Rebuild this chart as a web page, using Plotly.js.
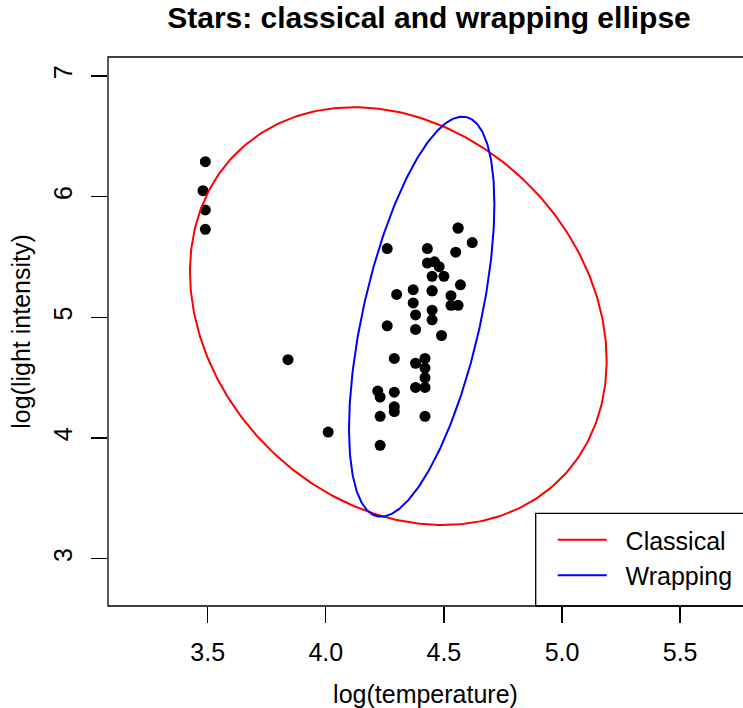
<!DOCTYPE html>
<html>
<head>
<meta charset="utf-8">
<script src="https://cdn.plot.ly/plotly-3.0.1.min.js"></script>
<style>html,body{margin:0;padding:0;background:#fff;}#chart{width:743px;height:708px;}</style>
</head>
<body>
<div id="chart"></div>
<script>
// starsCYG data: log temperature and log light intensity
const logTemp = [4.37,4.56,4.26,4.56,4.30,4.46,3.84,4.57,4.26,4.37,3.49,4.43,4.48,4.01,4.29,4.42,4.23,4.42,4.23,3.49,4.29,4.29,4.42,4.49,4.38,4.42,4.29,4.38,4.22,3.48,4.38,4.56,4.45,3.49,4.23,4.62,4.53,4.45,4.53,4.43,4.38,4.45,4.50,4.45,4.55,4.45,4.42];
const logLight = [5.23,5.74,4.93,5.74,5.19,5.46,4.65,5.27,5.57,5.12,5.73,5.45,5.42,4.05,4.26,4.58,3.94,4.18,4.18,5.89,4.38,4.22,4.42,4.85,5.02,4.66,4.66,4.90,4.39,6.05,4.42,5.10,5.22,6.29,4.34,5.62,5.10,5.22,5.18,5.57,4.62,5.06,5.34,5.34,5.54,4.98,4.50];

// ellipse parameters: [center x, center y], scaled shape matrix [xx, yy, xy]
const classicalCenter = [4.307, 5.0105];
const classicalShape = [0.778, 2.995, -0.325];
const wrappingCenter = [4.406, 5.006];
const wrappingShape = [0.0947, 2.746, 0.286];

const legendNames = ["Classical", "Wrapping"];
const xTicks = [3.5, 4.0, 4.5, 5.0, 5.5];
const yTicks = [3, 4, 5, 6, 7];

function ellipse(center, shape) {
  const l11 = Math.sqrt(shape[0]);
  const l21 = shape[2] / l11;
  const l22 = Math.sqrt(shape[1] - l21 * l21);
  const xs = [], ys = [];
  const n = 361;
  for (let i = 0; i < n; i++) {
    const t = 2 * Math.PI * i / (n - 1);
    xs.push(center[0] + l11 * Math.cos(t));
    ys.push(center[1] + l21 * Math.cos(t) + l22 * Math.sin(t));
  }
  return {x: xs, y: ys};
}

const ec = ellipse(classicalCenter, classicalShape);
const ew = ellipse(wrappingCenter, wrappingShape);

const FONT = "Liberation Sans, Arial, Helvetica, sans-serif";
const PAD = "\u00a0\u00a0";

const traces = [
  {x: logTemp, y: logLight, type: "scatter", mode: "markers",
   marker: {color: "black", size: 11, line: {width: 0}}, showlegend: false, hoverinfo: "x+y"},
  {x: ec.x, y: ec.y, type: "scatter", mode: "lines", name: PAD + legendNames[0],
   line: {color: "#ff0000", width: 2}},
  {x: ew.x, y: ew.y, type: "scatter", mode: "lines", name: PAD + legendNames[1],
   line: {color: "#0000ff", width: 2}}
];

const W = 743, H = 708;
const mL = 108, mR = 0, mT = 57, mB = 102;
const plotW = W - mL - mR, plotH = H - mT - mB;

const layout = {
  width: W, height: H,
  margin: {l: mL, r: mR, t: mT, b: mB, pad: 0},
  paper_bgcolor: "white", plot_bgcolor: "white",
  font: {family: FONT, size: 25, color: "black"},
  title: {text: "<b>Stars: classical and wrapping ellipse</b>",
          font: {family: FONT, size: 30, color: "black"},
          x: 429 / W, xref: "container", xanchor: "center",
          y: 1 - 17 / H, yref: "container", yanchor: "middle"},
  xaxis: {range: [3.0779, 5.7663], tickvals: xTicks, ticktext: xTicks.map(v => v.toFixed(1)),
          ticks: "outside", ticklen: 16, tickwidth: 1.3, tickcolor: "black",
          showline: false, showgrid: false, zeroline: false,
          tickfont: {size: 25}, ticklabelstandoff: 8,
          title: {text: "log(temperature)", font: {size: 25}, standoff: 20}},
  yaxis: {range: [2.6089, 7.1574], tickvals: yTicks, ticktext: yTicks.map(String),
          ticks: "outside", ticklen: 16, tickwidth: 1.3, tickcolor: "black",
          showline: false, showgrid: false, zeroline: false, tickangle: -90,
          tickfont: {size: 25}, ticklabelstandoff: 9,
          title: {text: "log(light intensity)", font: {size: 25}, standoff: 11}},
  showlegend: true,
  legend: {x: (552.7 - mL) / plotW, y: (606 - 517) / plotH, xanchor: "left", yanchor: "top",
           xref: "paper", yref: "paper", bgcolor: "rgba(0,0,0,0)", borderwidth: 0,
           itemwidth: 49, font: {size: 25}, tracegroupgap: 0},
  shapes: [
    {type: "rect", xref: "paper", yref: "paper", x0: 0, x1: (750 - mL) / plotW, y0: 0, y1: 1,
     line: {color: "black", width: 1.3}, fillcolor: "rgba(0,0,0,0)", layer: "above"},
    {type: "rect", xref: "paper", yref: "paper", x0: (535.7 - mL) / plotW, x1: (760 - mL) / plotW,
     y0: 0, y1: (606 - 513.3) / plotH, line: {color: "black", width: 1.3},
     fillcolor: "white", layer: "below"}
  ]
};

Plotly.newPlot("chart", traces, layout, {displayModeBar: false, staticPlot: true});
</script>
</body>
</html>
